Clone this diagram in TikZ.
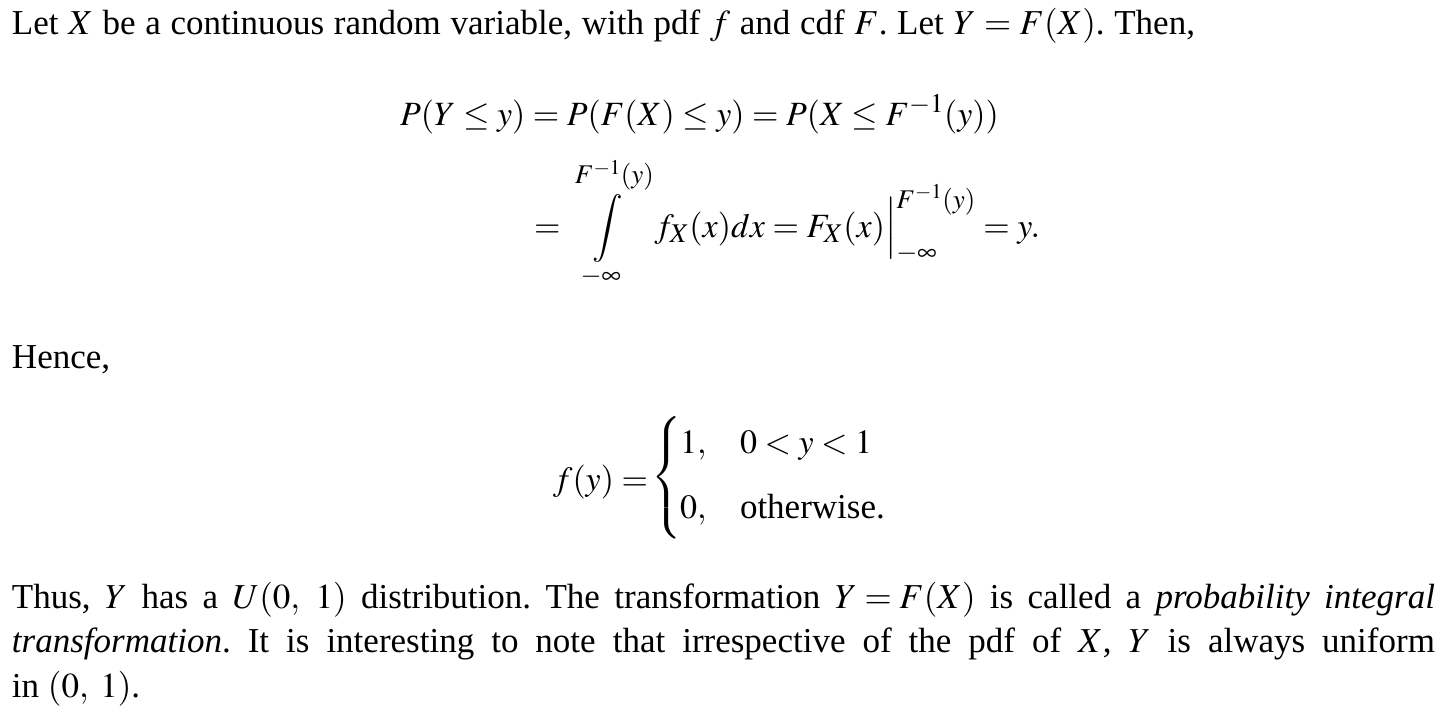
\documentclass[tikz,border=0pt]{standalone}
\usepackage{amsmath}
\usepackage{mathptmx}
\usepackage[no-math]{fontspec}
\setmainfont{Liberation Serif}
\DeclareMathSizes{35}{35}{27}{21}
\DeclareMathSizes{34}{34}{27}{21}
\frenchspacing
\tikzset{
  txt/.style={anchor=base west, inner sep=0pt, outer sep=0pt, font=\fontsize{35}{44}\selectfont},
  mth/.style={anchor=base west, inner sep=0pt, outer sep=0pt, font=\fontsize{34}{44}\selectfont}
}
\begin{document}
\begin{tikzpicture}[x=1pt,y=-1pt]
\useasboundingbox[fill=white] (0,0) rectangle (1445,715);
\node[txt] (l1) at (12,34) {\hbox to 1183pt{Let $X$ be a continuous random variable, with pdf $f$ and cdf $F$. Let $Y=F(X)$. Then,}};
\node[mth] (d1) at (400,125) {$P(Y\le y)=P(F(X)\le y)=P(X\le F^{-1}(y))$};
\node[mth] (d2) at (534,237) {$\displaystyle =\int\limits_{-\infty}^{F^{-1}(y)}\, f_X(x)dx=F_X(x)\Big|_{-\infty}^{F^{-1}(y)}=y.$};
\node[txt] (hence) at (12,368) {Hence,};
\node[mth] (lhs) at (553,490) {$f(y)=$};
\node[mth, anchor=center] (brace) at (667,477.5) {$\left\{\vrule height 50pt depth 50pt width 0pt\right.$};
\node[mth] (c11) at (680,453) {$1,$};
\node[mth] (c12) at (740,453) {$0<y<1$};
\node[mth] (c21) at (680,518) {$0,$};
\node[txt] (c22) at (740,518) {otherwise.};
\node[txt] (p1) at (12,608) {\hbox to 1423pt{Thus, $Y$ has a $U(0,\;1)$ distribution. The transformation $Y\!=\!F(X)$ is called a \textit{probability integral}}};
\node[txt] (p2) at (12,652) {\hbox to 1423pt{\textit{transformation}. It is interesting to note that irrespective of the pdf of $X$, $Y$ is always uniform}};
\node[txt] (p3) at (12,697) {in $(0,\;1)$.};
\end{tikzpicture}
\end{document}
